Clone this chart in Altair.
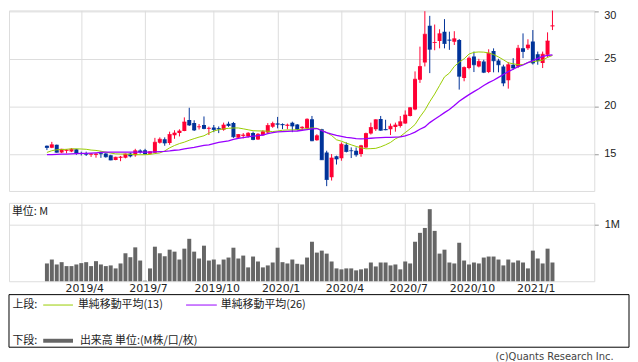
import altair as alt
import pandas as pd

# ---- data (weekly candles, index 0 = week of 2019-02-11) ----
weeks = list(range(104))
opens = [15.87,15.66,15.97,15.17,15.35,15.26,15.5,15.12,15.05,14.95,
         14.92,15.08,15.05,14.88,14.38,14.62,14.6,15.05,14.88,15.38,
         15.4,15.02,15.15,16.2,16.55,16.15,16.98,17.2,17.43,18.58,
         18.26,17.82,18.06,17.65,17.8,17.7,17.55,18.18,18.26,16.72,
         16.92,16.84,17.2,16.53,16.98,17.26,17.88,18.2,18.15,17.98,
         18.28,18.1,17.7,17.71,18.65,16.46,17.6,15.17,12.57,14.76,
         14.55,15.97,15.38,15.35,15.0,15.7,17.15,17.6,18.68,17.62,
         17.6,17.85,17.95,18.2,18.99,19.69,22.81,24.62,28.47,26.65,
         26.88,27.85,27.0,26.8,26.98,22.99,24.03,25.24,24.2,24.72,
         23.61,25.83,24.83,24.2,22.74,24.38,24.2,26.11,26.11,26.81,
         25.49,24.55,25.42,28.42]
highs = [15.9,16.28,15.99,15.55,15.5,15.62,15.55,15.25,15.25,15.1,
         15.1,15.28,15.1,14.92,14.72,14.8,15.05,15.15,15.55,15.5,
         15.55,15.3,16.7,16.75,16.75,17.35,17.5,17.6,18.85,19.86,
         18.55,18.15,18.95,17.88,18.05,17.9,18.3,18.4,18.37,17.1,
         17.2,17.3,17.35,17.2,17.5,18.25,18.4,18.9,18.22,18.2,
         18.4,18.15,17.92,18.75,19.0,17.08,17.65,15.35,15.0,14.83,
         16.22,16.22,15.7,15.7,15.97,17.25,18.3,18.65,19.0,18.6,
         18.2,18.3,18.99,19.58,19.93,23.68,26.28,30.0,29.51,28.6,
         28.1,29.17,27.85,27.9,27.08,24.2,25.24,25.76,25.0,24.9,
         26.0,26.1,25.0,24.38,24.65,25.07,26.46,27.67,27.05,28.02,
         25.76,25.76,27.78,30.35]
lows = [15.42,15.62,15.15,15.1,15.07,15.2,14.92,14.85,14.8,14.7,
        14.62,14.6,14.62,14.35,14.35,14.25,14.55,14.65,14.72,15.05,
        14.95,14.98,15.1,16.1,15.87,15.97,16.6,16.85,17.4,17.95,
        17.42,17.58,17.6,17.0,17.3,17.2,17.45,17.85,16.7,16.62,
        16.65,16.72,16.45,16.48,16.9,17.15,17.75,17.7,17.62,17.6,
        17.3,17.5,17.5,17.65,16.35,16.4,14.38,11.63,12.22,13.9,
        14.3,15.17,14.58,14.72,14.72,15.6,17.05,17.43,17.45,17.5,
        17.0,17.35,17.78,18.18,18.95,19.6,22.47,24.2,23.5,25.9,
        26.1,26.1,25.94,26.45,21.77,22.64,23.9,23.61,24.1,23.5,
        23.5,23.58,23.58,22.12,21.87,23.85,24.03,25.07,25.93,24.4,
        24.38,24.03,25.14,28.02]
closes = [15.69,15.97,15.2,15.5,15.42,15.5,15.1,15.05,14.98,15.0,
          15.0,15.03,14.72,14.38,14.67,14.68,15.0,14.8,15.35,15.22,
          15.0,15.25,16.25,16.55,16.15,17.05,17.2,17.43,18.37,18.06,
          17.53,17.88,17.67,17.7,17.57,17.62,18.04,17.99,16.82,17.05,
          17.0,17.19,16.53,17.08,17.33,18.0,18.22,18.12,18.08,18.05,
          17.95,17.6,17.82,18.65,16.39,16.91,14.41,12.33,14.58,14.48,
          16.04,15.28,15.35,14.93,15.87,17.15,17.78,18.61,17.5,17.56,
          17.92,18.05,18.4,19.1,19.86,22.85,24.2,27.57,26.0,26.72,
          27.64,26.6,26.95,27.1,23.16,24.1,25.07,24.38,24.72,23.58,
          25.59,24.79,24.38,22.47,24.38,24.03,26.11,25.76,26.46,24.55,
          24.79,25.49,26.88,28.47]
ma13 = [15.17,15.35,15.45,15.47,15.5,15.55,15.55,15.53,15.5,15.42,
        15.38,15.3,15.2,15.1,15.02,15.0,15.0,14.97,14.94,14.93,
        14.93,14.96,15.05,15.12,15.33,15.65,15.9,16.1,16.25,16.45,
        16.62,16.78,16.92,17.2,17.42,17.55,17.65,17.7,17.74,17.74,
        17.65,17.55,17.45,17.43,17.43,17.4,17.36,17.42,17.5,17.53,
        17.53,17.55,17.6,17.68,17.74,17.7,17.5,17.25,16.95,16.5,
        16.35,16.15,15.97,15.8,15.66,15.55,15.57,15.6,15.76,15.97,
        16.22,16.6,16.85,17.25,17.65,18.1,18.9,19.6,20.5,21.3,
        22.2,23.1,23.5,24.2,24.65,25.0,25.5,25.68,25.72,25.7,
        25.62,25.45,25.2,24.9,24.58,24.48,24.38,24.4,24.62,24.7,
        24.78,24.85,25.15,25.35]
ma26 = [14.93,14.93,14.97,15.0,15.0,15.02,15.05,15.07,15.07,15.1,
        15.13,15.17,15.2,15.2,15.2,15.2,15.2,15.2,15.2,15.2,
        15.2,15.2,15.22,15.25,15.28,15.33,15.4,15.45,15.55,15.62,
        15.7,15.8,15.9,15.97,16.1,16.22,16.3,16.39,16.55,16.65,
        16.72,16.8,16.88,16.94,17.0,17.15,17.25,17.33,17.35,17.38,
        17.4,17.42,17.5,17.57,17.65,17.68,17.45,17.25,17.1,16.95,
        16.85,16.76,16.7,16.63,16.6,16.62,16.66,16.7,16.73,16.75,
        16.76,16.78,16.8,16.92,17.08,17.3,17.6,17.85,18.3,18.65,
        18.99,19.35,19.68,20.1,20.55,20.9,21.24,21.55,21.86,22.2,
        22.5,22.75,23.05,23.35,23.66,23.9,24.18,24.35,24.6,24.8,
        25.05,25.25,25.35,25.42]
volume_m = [0.316,0.386,0.298,0.339,0.269,0.269,0.298,0.322,0.339,0.269,
            0.357,0.298,0.269,0.281,0.228,0.316,0.497,0.427,0.602,0.368,
            0.01,0.228,0.614,0.497,0.444,0.561,0.526,0.386,0.579,0.754,
            0.526,0.404,0.632,0.368,0.386,0.298,0.386,0.421,0.596,0.404,
            0.456,0.246,0.439,0.351,0.246,0.281,0.333,0.596,0.339,0.316,
            0.386,0.31,0.298,0.421,0.702,0.509,0.544,0.491,0.351,0.228,
            0.211,0.228,0.228,0.193,0.211,0.228,0.333,0.263,0.333,0.333,
            0.281,0.298,0.211,0.351,0.316,0.702,0.86,0.947,1.281,0.895,
            0.491,0.561,0.333,0.316,0.684,0.368,0.298,0.333,0.316,0.421,
            0.439,0.439,0.386,0.281,0.386,0.333,0.368,0.333,0.228,0.544,
            0.404,0.316,0.579,0.333]
month_weeks = [7, 20, 34, 47, 60, 73, 86, 99]
month_labels = ["2019/4", "2019/7", "2019/10", "2020/1",
                "2020/4", "2020/7", "2020/10", "2021/1"]
price_ticks = [15, 20, 25, 30]
volume_ticks = [1]

df = pd.DataFrame({"w": weeks, "open": opens, "high": highs, "low": lows,
                   "close": closes, "ma13": ma13, "ma26": ma26, "vol": volume_m})
df["dir"] = ["up" if c >= o else "down" for o, c in zip(opens, closes)]
ticks_df = pd.DataFrame({"p": price_ticks})
one = pd.DataFrame({"k": [0]})

RED = "#FF0033"
BLUE = "#003399"
GREEN = "#99CC00"
PURPLE = "#9900FF"
GRID = "#999999"
TXT = "#222222"
NUMFONT = "Liberation Sans"
JPFONT = "Noto Sans CJK JP"

xscale = alt.Scale(domain=[-6.716, 110.51], nice=False, zero=False)
x_top_axis = alt.Axis(values=month_weeks, labels=False, ticks=False, domain=False,
                      grid=True, title=None)
label_expr = "[" + ",".join("'%s'" % s for s in month_labels) + "][indexof([" + \
    ",".join(str(v) for v in month_weeks) + "], datum.value)]"
x_bot_axis = alt.Axis(values=month_weeks, labelExpr=label_expr, ticks=False, domain=False,
                      grid=True, title=None, labelFont="DejaVu Sans", labelFontSize=11,
                      labelColor=TXT, labelPadding=1, labelOffset=3, labelOverlap=False,
                      labelFlush=False)

yscale = alt.Scale(domain=[11.125, 30.083], nice=False, zero=False)
y_axis = alt.Axis(orient="right", values=price_ticks, title=None, grid=True, domain=False,
                  tickSize=4, tickColor=GRID, labels=False)
color = alt.Color("dir:N", scale=alt.Scale(domain=["up", "down"], range=[RED, BLUE]), legend=None)

X = alt.X("w:Q", scale=xscale, axis=x_top_axis)
base = alt.Chart(df)

wick = base.mark_rule(strokeWidth=1, clip=True).encode(
    x=X, y=alt.Y("low:Q", scale=yscale, axis=y_axis), y2="high:Q", color=color)
body = base.mark_bar(size=4, clip=True).encode(
    x=X, y=alt.Y("open:Q", scale=yscale, axis=y_axis), y2="close:Q", color=color)
cross = base.mark_tick(orient="horizontal", size=4, thickness=1, clip=True).encode(
    x=X, y=alt.Y("close:Q", scale=yscale, axis=y_axis), color=color)
line13 = base.mark_line(color=GREEN, strokeWidth=1, clip=True).encode(
    x=X, y=alt.Y("ma13:Q", scale=yscale, axis=y_axis))
line26 = base.mark_line(color=PURPLE, strokeWidth=1.3, clip=True).encode(
    x=X, y=alt.Y("ma26:Q", scale=yscale, axis=y_axis))

# right-hand price labels (the top one nudged down so it stays on the page)
tick_text = alt.Chart(ticks_df).transform_filter("datum.p < 30").mark_text(
    font=NUMFONT, fontSize=11, color=TXT, align="left", baseline="middle").encode(
    x=alt.value(600), y=alt.Y("p:Q", scale=yscale, axis=y_axis), text="p:Q")
tick_text_top = alt.Chart(ticks_df).transform_filter("datum.p >= 30").mark_text(
    font=NUMFONT, fontSize=11, color=TXT, align="left", baseline="middle", dy=5).encode(
    x=alt.value(600), y=alt.Y("p:Q", scale=yscale, axis=y_axis), text="p:Q")

price = alt.layer(wick, body, cross, line13, line26, tick_text, tick_text_top
                  ).properties(width=590, height=182)

# ---- volume panel ----
XB = alt.X("w:Q", scale=xscale, axis=x_bot_axis)
vscale = alt.Scale(domain=[0, 1.393], nice=False, zero=True)
v_axis = alt.Axis(orient="right", values=volume_ticks, labelExpr="'1M'", title=None, grid=True,
                  domain=False, tickSize=4, tickColor=GRID, labelPadding=6, labelFont=NUMFONT,
                  labelFontSize=11, labelColor=TXT)
vbars = base.mark_bar(size=4, color="#666666").encode(
    x=XB, y=alt.Y("vol:Q", scale=vscale, axis=v_axis))

o = alt.Chart(one)
unit_txt = o.mark_text(text="単位: M", font=JPFONT, fontSize=11, color=TXT, align="left",
                       baseline="middle").encode(x=alt.value(3), y=alt.value(9))
box = o.mark_rect(fill="white", stroke="#000000", strokeWidth=1).encode(
    x=alt.value(0), x2=alt.value(625), y=alt.value(92.5), y2=alt.value(145.5))
leg_g = o.mark_rule(color=GREEN, strokeWidth=1).encode(
    x=alt.value(34.5), x2=alt.value(64.5), y=alt.value(103))
leg_p = o.mark_rule(color=PURPLE, strokeWidth=1).encode(
    x=alt.value(178.5), x2=alt.value(209.5), y=alt.value(103))
leg_v = o.mark_rule(color="#666666", strokeWidth=4).encode(
    x=alt.value(34.5), x2=alt.value(64.5), y=alt.value(139))

def label(txt, x, y):
    return o.mark_text(text=txt, font=JPFONT, fontSize=11, color=TXT, align="left",
                       baseline="middle").encode(x=alt.value(x), y=alt.value(y))

t1 = label("上段:", 3.5, 103)
t2 = label("単純移動平均(13)", 69.5, 103)
t3 = label("単純移動平均(26)", 213.5, 103)
t4 = label("下段:", 3.5, 139)
t5 = label("出来高 単位:(M株/口/枚)", 71.5, 139)
copy = o.mark_text(text="(c)Quants Research Inc.", font="DejaVu Sans", fontSize=10,
                   color="#444444", align="right", baseline="middle").encode(
    x=alt.value(609.5), y=alt.value(155))

volume = alt.layer(vbars, unit_txt, box, leg_g, leg_p, leg_v, t1, t2, t3, t4, t5, copy
                   ).properties(width=590, height=79)

chart = alt.vconcat(price, volume, spacing=10).properties(
    padding=0
).configure_view(stroke=GRID, strokeWidth=1).configure_axis(
    gridColor=GRID, gridWidth=1, gridOpacity=1
).configure(background="white")

chart.save("out.html", embed_options={"renderer": "svg", "actions": False})
